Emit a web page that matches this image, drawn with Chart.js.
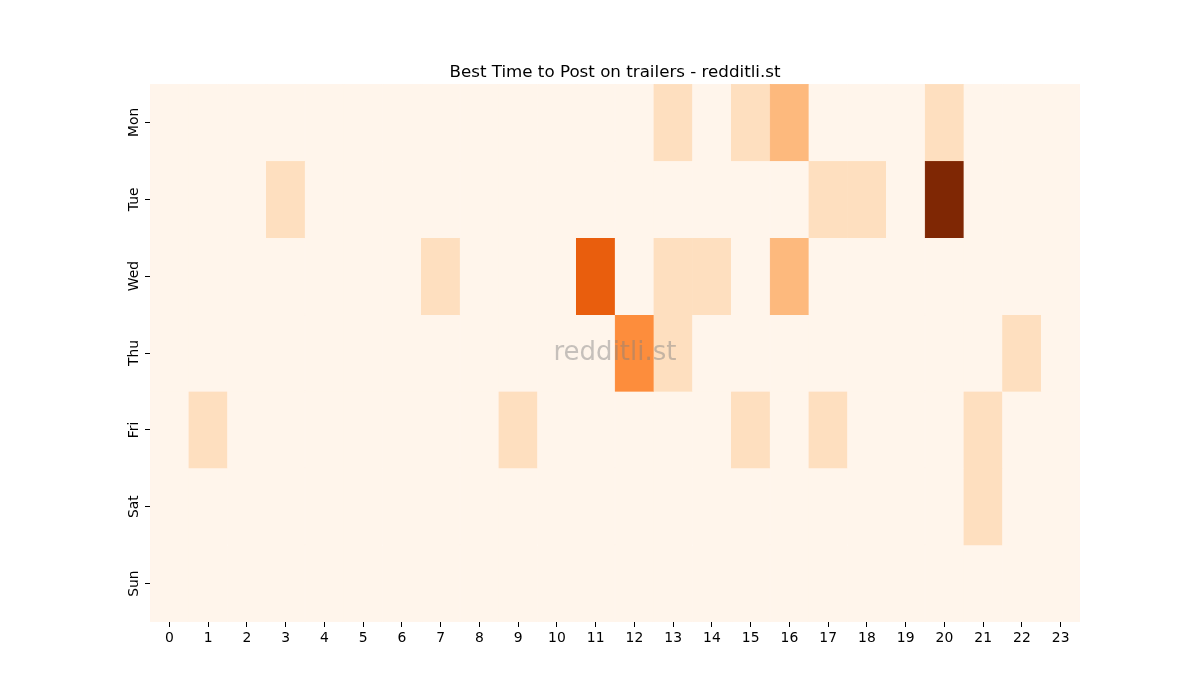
<!DOCTYPE html>
<html>
<head>
<meta charset="utf-8">
<title>Best Time to Post on trailers</title>
<script src="https://cdn.jsdelivr.net/npm/chart.js@4"></script>
<style>
    html, body { margin: 0; padding: 0; background: #ffffff; }
    #wrap { width: 1200px; height: 700px; }
</style>
</head>
<body>
<div id="wrap"><canvas id="heatmap" width="1200" height="700"></canvas></div>
<script>
    var chartTitle = 'Best Time to Post on trailers - redditli.st';
    var hours = ['0','1','2','3','4','5','6','7','8','9','10','11','12','13','14','15','16','17','18','19','20','21','22','23'];
    var days = ['Mon', 'Tue', 'Wed', 'Thu', 'Fri', 'Sat', 'Sun'];

    // posts per hour, one row per day
    var mon = [0,0,0,0,0,0,0,0,0,0,0,0,0,1,0,1,2,0,0,0,1,0,0,0];
    var tue = [0,0,0,1,0,0,0,0,0,0,0,0,0,0,0,0,0,1,1,0,6,0,0,0];
    var wed = [0,0,0,0,0,0,0,1,0,0,0,4,0,1,1,0,2,0,0,0,0,0,0,0];
    var thu = [0,0,0,0,0,0,0,0,0,0,0,0,3,1,0,0,0,0,0,0,0,0,1,0];
    var fri = [0,1,0,0,0,0,0,0,0,1,0,0,0,0,0,1,0,1,0,0,0,1,0,0];
    var sat = [0,0,0,0,0,0,0,0,0,0,0,0,0,0,0,0,0,0,0,0,0,1,0,0];
    var sun = [0,0,0,0,0,0,0,0,0,0,0,0,0,0,0,0,0,0,0,0,0,0,0,0];

    var rows = [mon, tue, wed, thu, fri, sat, sun];

    // matplotlib "Oranges"
    var oranges = ['#fff5eb','#fee6ce','#fdd0a2','#fdae6b','#fd8d3c','#f16913','#d94801','#a63603','#7f2704'];

    function hexToRgb(h) {
        return [parseInt(h.substr(1,2),16), parseInt(h.substr(3,2),16), parseInt(h.substr(5,2),16)];
    }

    function colorFor(v, vmax) {
        var t = vmax > 0 ? v / vmax : 0;
        var pos = t * (oranges.length - 1);
        var i = Math.min(Math.floor(pos), oranges.length - 2);
        var f = pos - i;
        var a = hexToRgb(oranges[i]), b = hexToRgb(oranges[i+1]);
        var c = [0,1,2].map(function(k){ return Math.round(a[k] + (b[k]-a[k]) * f); });
        return 'rgb(' + c.join(',') + ')';
    }

    var vmax = 0;
    rows.forEach(function(r){ r.forEach(function(v){ if(v > vmax) vmax = v; }); });

    var datasets = [];
    for(var d=0; d<days.length; d++) {
        var colors = rows[d].map(function(v){ return colorFor(v, vmax); });
        datasets.push({
            label : days[d],
            data : rows[d].map(function(){ return 1; }),
            backgroundColor : colors,
            borderColor : colors,
            borderWidth : 0.5,
            borderSkipped : false,
            barPercentage : 1,
            categoryPercentage : 1
        });
    }

    // day names, rotated like matplotlib's y tick labels
    var dayLabels = {
        id : 'dayLabels',
        afterDraw : function(chart) {
            var ctx = chart.ctx, y = chart.scales.y, area = chart.chartArea;
            ctx.save();
            ctx.fillStyle = '#000';
            ctx.font = '13.9px "DejaVu Sans"';
            ctx.textAlign = 'center';
            ctx.textBaseline = 'bottom';
            for(var i=0; i<days.length; i++) {
                var py = y.getPixelForValue(i + 0.5);
                ctx.save();
                ctx.translate(area.left - 9, py);
                ctx.rotate(-Math.PI / 2);
                ctx.fillText(days[i], 0, 0);
                ctx.restore();
            }
            ctx.restore();
        }
    };

    // title centred over the cells, plus the watermark
    var overlay = {
        id : 'overlay',
        afterDraw : function(chart) {
            var ctx = chart.ctx, area = chart.chartArea;
            var cx = (area.left + area.right) / 2;
            ctx.save();
            ctx.fillStyle = '#000';
            ctx.font = '16.7px "DejaVu Sans"';
            ctx.textAlign = 'center';
            ctx.textBaseline = 'alphabetic';
            ctx.fillText(chartTitle, cx, area.top - 7);

            ctx.fillStyle = 'rgba(128,128,128,0.45)';
            ctx.font = '26px "DejaVu Sans"';
            ctx.textBaseline = 'middle';
            ctx.fillText('redditli.st', cx, (area.top + area.bottom) / 2);
            ctx.restore();
        }
    };

    Chart.defaults.font.family = '"DejaVu Sans", sans-serif';
    Chart.defaults.color = '#000';

    new Chart(document.getElementById('heatmap').getContext('2d'), {
        type : 'bar',
        data : {
            labels : hours,
            datasets : datasets
        },
        options : {
            responsive : false,
            animation : false,
            layout : { padding : { left : 0, right : 120, top : 84, bottom : 0 } },
            plugins : {
                legend : { display : false },
                tooltip : { enabled : false },
                title : { display : false }
            },
            scales : {
                x : {
                    stacked : true,
                    grid : { display : true, drawOnChartArea : false, drawTicks : true, tickLength : 5, color : '#000', offset : false },
                    border : { display : false },
                    ticks : { font : { size : 13.9 }, color : '#000', padding : 3, maxRotation : 0, autoSkip : false },
                    afterFit : function(s) { s.height = 78; }
                },
                y : {
                    stacked : true,
                    type : 'linear',
                    min : 0,
                    max : 7,
                    reverse : true,
                    grid : { display : true, drawOnChartArea : false, drawTicks : true, tickLength : 5, color : '#000' },
                    border : { display : false },
                    ticks : { callback : function(){ return ''; } },
                    afterBuildTicks : function(s) {
                        s.ticks = days.map(function(n, i){ return { value : i + 0.5 }; });
                    },
                    afterFit : function(s) { s.width = 150; }
                }
            }
        },
        plugins : [dayLabels, overlay]
    });
</script>
</body>
</html>
